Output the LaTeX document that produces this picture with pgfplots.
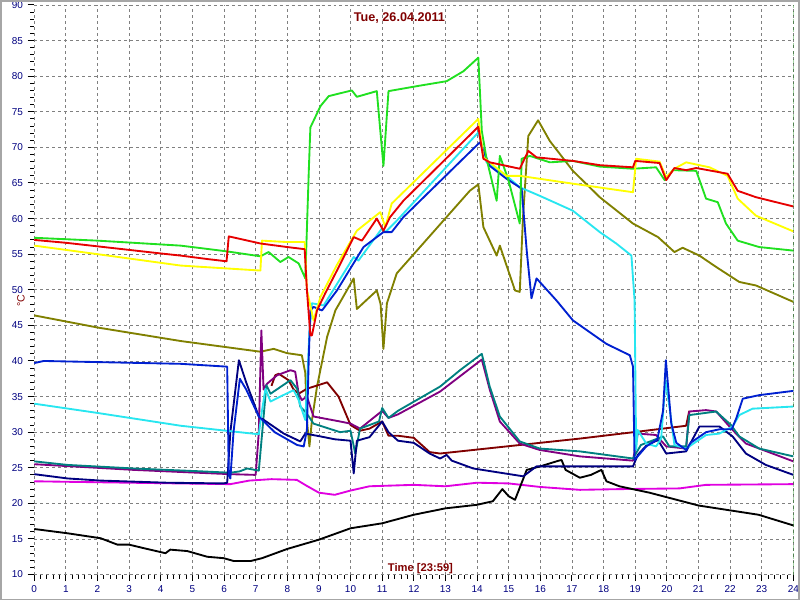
\documentclass[border=0pt]{standalone}
\usepackage{fontspec}
\setmainfont{Liberation Sans}
\usepackage{pgfplots}
\pgfplotsset{compat=1.18}
\definecolor{lblnavy}{RGB}{0,0,128}
\definecolor{ttlred}{RGB}{128,0,0}
\definecolor{cred}{RGB}{230,0,0}
\definecolor{cyellow}{RGB}{255,255,0}
\definecolor{cgreen}{RGB}{32,224,32}
\definecolor{ccyan}{RGB}{40,230,240}
\definecolor{cblue}{RGB}{0,32,208}
\definecolor{cnavy}{RGB}{0,0,128}
\definecolor{colive}{RGB}{128,128,0}
\definecolor{cmagenta}{RGB}{224,0,224}
\definecolor{cteal}{RGB}{0,128,128}
\definecolor{cpurple}{RGB}{128,0,128}
\definecolor{cmaroon}{RGB}{128,0,0}
\begin{document}
\begin{tikzpicture}
\begin{axis}[
  at={(0,0)}, anchor=south west,
  scale only axis, width=570.75pt, height=428.25pt,
  xmin=0, xmax=24, ymin=10, ymax=90,
  xtick={0,...,24}, ytick={10,15,...,90},
  minor x tick num=4, minor y tick num=4,
  xtick pos=bottom, ytick pos=left,
  axis line style={draw=none},
  tick align=outside,
  major tick length=5pt, minor tick length=3pt,
  tick style={black, line width=0.75pt},
  grid=major,
  major grid style={gray, dash pattern=on 2.25pt off 2.25pt, line width=0.6pt},
  ticklabel style={font=\fontsize{7.5}{9}\selectfont, text=lblnavy},
  /pgf/number format/assume math mode=true,
  every axis plot/.append style={line width=1.4pt, line join=round, mark=none},
]
% olive
\addplot[colive] coordinates {
(0,46.4) (2,44.7) (4.63,42.8) (7.15,41.3) (7.57,41.7) (7.99,41.1) (8.46,40.8) (8.57,38.3)
(8.62,31.7) (8.7,28.0) (8.78,31.7) (8.94,36.4) (9.26,43.4) (9.52,47.1) (10.1,51.6) (10.2,47.3)
(10.83,49.9) (10.95,48) (11.04,41.7) (11.15,48.1) (11.46,52.3) (13.77,63.9) (14.04,64.8)
(14.2,58.8) (14.62,54.8) (14.72,56.2) (15.2,49.9) (15.35,49.7) (15.45,60) (15.62,71.6)
(15.93,73.8) (16.3,70.9) (17.03,66.7) (17.88,63.0) (18.93,59.3) (19.72,57.4) (20.24,55.3)
(20.5,55.9) (21.03,54.8) (21.56,53.2) (22.29,51.1) (22.82,50.6) (24,48.3)};
% magenta
\addplot[cmagenta] coordinates {
(0,23.1) (3,22.9) (6.2,22.7) (6.8,23.2) (7.5,23.4) (8.3,23.3) (8.6,22.5) (9.0,21.5) (9.5,21.2)
(10.0,21.8) (10.6,22.4) (12.0,22.6) (13.0,22.4) (14.0,22.9) (15.0,22.8) (16.0,22.3)
(17.25,21.9) (18.5,22.0) (20.4,22.1) (21.24,22.6) (24,22.7)};
% black
\addplot[black] coordinates {
(0,16.4) (1.05,15.8) (2.1,15.1) (2.63,14.2) (3.0,14.2) (3.47,13.7) (4.15,13.0) (4.3,13.5)
(4.84,13.3) (5.47,12.5) (5.99,12.3) (6.31,11.9) (6.84,11.9) (7.2,12.3) (8.0,13.6) (9.0,14.9)
(10.0,16.5) (11.0,17.2) (12.0,18.4) (13.0,19.3) (14.0,19.8) (14.5,20.3) (14.8,22) (15.0,21)
(15.2,20.5) (15.57,24.7) (16.0,25.2) (16.51,25.9) (16.67,26.1) (16.8,24.7) (17.25,23.6)
(17.6,24.0) (17.93,24.7) (18.09,23.1) (18.5,22.4) (19.45,21.5) (21.0,19.7) (22.9,18.4) (24,16.9)};
% maroon
\addplot[cmaroon] coordinates {
(7.5,36.5) (7.62,38.0) (7.73,38.2) (8.04,37.3) (8.2,36) (8.36,35.4) (8.62,36.1) (9.26,37.0)
(9.62,35.0) (10.0,31.0) (10.3,30.2) (10.6,30.5) (11.0,31.5) (11.2,29.5) (11.5,29.5) (12.0,29.2)
(12.5,27.2) (12.83,27.0) (17.25,29.1) (19.14,30.1) (20.61,30.9) (20.71,33)};
% purple
\addplot[cpurple] coordinates {
(0,25.5) (3.15,24.7) (6.2,24.1) (7.0,24.0) (7.1,30) (7.18,44.3) (7.25,36) (7.36,36.8)
(7.68,38.0) (8.1,38.7) (8.25,38.5) (8.36,35.4) (8.46,34.5) (8.62,35.0) (8.83,32.2) (9.67,31.5)
(10.0,31.2) (10.3,30.5) (11.0,33.0) (11.2,32) (11.5,32.5) (12.83,35.7) (14.15,40.2) (14.4,36)
(14.72,31.5) (15.35,28.4) (15.98,27.5) (17.25,26.6) (18.93,26.0) (19.08,29.8) (19.66,29.6)
(19.98,28.0) (20.61,27.7) (20.71,32.9) (21.24,33.1) (21.56,32.9) (22.08,30.3) (22.5,28.4) (24,25.9)};
% teal
\addplot[cteal] coordinates {
(0,25.9) (1.05,25.4) (3.15,24.9) (5.26,24.5) (6.2,24.3) (6.5,24.5) (6.73,24.9) (7.1,24.6)
(7.15,27.1) (7.34,36.6) (7.47,35.4) (8.1,37.3) (8.31,36.1) (8.41,33.6) (8.62,32.6) (8.83,31.2)
(9.67,30.0) (10.0,30.2) (10.15,27) (10.3,30.5) (10.9,31.5) (11.0,33.4) (11.2,32) (11.5,33)
(12.83,36.4) (13.46,38.7) (14.15,41.0) (14.4,36.4) (14.72,32.2) (15.35,28.7) (15.98,27.7)
(17.25,27.3) (18.09,26.8) (18.93,26.3) (19.18,28.2) (19.88,29.4) (20.08,28.0) (20.61,28.0)
(20.71,32.4) (21.56,32.9) (22.03,31.0) (22.29,29.4) (22.92,27.7) (24,26.6)};
% navy
\addplot[cnavy] coordinates {
(0,24.1) (1.05,23.5) (2.1,23.2) (4.2,22.9) (6.0,22.8) (6.1,22.9) (6.2,30) (6.47,40.1) (6.7,37)
(7.1,32.2) (7.89,29.8) (8.41,28.7) (8.57,29.8) (9.05,29.4) (9.5,29.0) (10.0,28.8) (10.1,24.2)
(10.2,28.8) (10.6,29.3) (11.0,31.5) (11.2,30.0) (11.5,28.8) (12.0,28.5) (12.5,27.0) (12.83,26.3)
(13.04,26.8) (13.2,26.0) (13.88,24.9) (15.46,23.8) (15.88,25.2) (18.93,25.2) (19.08,26.8)
(19.35,28.1) (19.72,28.9) (19.98,27.0) (20.61,27.3) (21.03,30.8) (21.66,30.8) (22.08,29.4)
(22.5,27.0) (23.13,25.4) (24,24.0)};
% cyan
\addplot[ccyan] coordinates {
(0,34.0) (2,32.7) (4.63,30.9) (7.1,29.7) (7.2,33) (7.31,36.1) (7.47,34.3) (7.78,35.0) (8.2,35.9)
(8.36,34.5) (8.57,31.7) (8.7,44) (8.78,48.1) (9.15,47.8) (9.57,50.8) (10.1,54.6) (10.25,54.1)
(10.99,58.6) (11.1,58.1) (11.46,59.7) (14.04,72.1) (14.2,69.5) (14.3,67.9) (14.93,66.0)
(15.35,64.4) (15.98,63.2) (17.03,61.1) (17.88,58.1) (18.4,56.5) (18.88,54.8) (18.98,48.5)
(19.03,27.5) (19.08,30.3) (19.35,28.4) (19.66,28.0) (19.82,29.1) (19.96,37.3) (20.08,33.6)
(20.24,28.2) (20.61,27.7) (21.24,29.6) (21.66,29.8) (22.08,30.8) (22.29,32.4) (22.71,33.3) (24,33.6)};
% blue
\addplot[cblue] coordinates {
(0,39.7) (0.3,40.0) (4.63,39.6) (6.1,39.2) (6.15,24) (6.2,23.5) (6.3,30) (6.5,37.5) (6.7,36)
(7.1,32.2) (7.6,30.0) (8.31,28.2) (8.52,28.0) (8.62,30.3) (8.68,40.6) (8.73,47.1) (8.83,47.6)
(9.1,47.1) (9.57,49.9) (10.41,56.0) (11.04,58.1) (11.3,58.1) (11.67,60.2) (14.04,70.5)
(14.09,70.7) (14.4,67.4) (14.93,65.6) (15.41,64.2) (15.57,55.5) (15.72,48.8) (15.88,51.6)
(16.51,48.5) (17.03,45.7) (18.09,42.4) (18.83,40.8) (18.93,39.2) (18.98,26.1) (19.35,28.0)
(19.7,29.0) (19.88,33) (19.97,40.1) (20.14,31.2) (20.3,28.5) (20.61,27.5) (20.75,28.5)
(21.24,30.0) (21.66,30.4) (22.05,30.4) (22.2,32) (22.4,34.7) (22.92,35.2) (24,35.8)};
% green
\addplot[cgreen] coordinates {
(0,57.3) (2,56.9) (4.63,56.2) (6.08,55.4) (7.15,54.7) (7.41,55.3) (7.78,53.9) (8.04,54.6)
(8.36,53.7) (8.57,51.6) (8.68,66.7) (8.73,72.8) (9.05,75.8) (9.31,77.2) (10.04,78.0) (10.2,77.1)
(10.83,77.9) (11.04,67.4) (11.2,77.9) (12.1,78.6) (13.04,79.3) (13.57,80.7) (14.04,82.6)
(14.15,72.3) (14.3,68.4) (14.62,62.5) (14.72,68.8) (14.98,65.6) (15.35,59.3) (15.41,68.4)
(15.67,68.8) (16.3,67.9) (17.03,68.1) (17.88,67.3) (18.93,67.0) (19.66,67.2) (19.93,65.4)
(20.19,66.8) (20.93,66.7) (21.24,62.8) (21.61,62.3) (21.87,59.3) (22.24,56.9) (22.92,56.0) (24,55.5)};
% yellow
\addplot[cyellow] coordinates {
(0,56.2) (2,55.0) (4.63,53.4) (7.15,52.7) (7.2,56.9) (8.0,56.7) (8.55,56.7) (8.62,50) (8.83,45.7)
(9.05,49.0) (9.57,53.5) (10.2,58.3) (10.94,60.9) (11.1,58.8) (11.3,62.1) (14.04,74.0) (14.2,68.6)
(14.93,66.0) (15.35,66.0) (17.03,64.9) (18.93,63.7) (19.03,68.4) (19.77,68.0) (19.98,65.8)
(20.24,67.0) (20.61,67.9) (21.35,67.2) (21.92,66.0) (22.24,62.8) (22.82,60.4) (24,58.2)};
% red
\addplot[cred] coordinates {
(0,57.0) (1,56.6) (2,56.1) (3,55.6) (4,55.1) (4.63,54.8) (5.5,54.3) (6.08,54.0) (6.15,57.5)
(7.15,56.5) (8.0,56.0) (8.55,55.7) (8.62,50) (8.73,43.6) (8.78,43.6) (8.94,47.1) (9.2,49.5)
(9.57,52.7) (10.1,57.4) (10.36,56.9) (10.83,60.0) (11.04,58.3) (11.25,60.2) (11.67,62.5)
(14.04,72.9) (14.2,68.4) (14.4,67.9) (14.93,67.4) (15.35,67.0) (15.62,69.5) (15.88,68.6)
(17.03,68.1) (17.88,67.5) (18.93,67.2) (19.0,68.1) (19.77,67.8) (19.98,65.4) (20.24,67.1)
(20.61,66.8) (20.93,67.1) (21.92,66.3) (22.24,63.9) (22.82,63.0) (24,61.7)};
\draw[green!50!black, dash pattern=on 4pt off 2pt, line width=0.75pt] (axis cs:24,10) -- (axis cs:24,90);
\end{axis}
\node[font=\bfseries\fontsize{9.5}{11}\selectfont, text=ttlred] at (274.6pt,418.5pt) {Tue, 26.04.2011};
\node[font=\bfseries\fontsize{8.4}{10}\selectfont, text=ttlred] at (290.4pt,4.5pt) {Time [23:59]};
\node[font=\fontsize{8}{10}\selectfont, text=ttlred, rotate=90] at (-10pt,206pt) {°C};
\pgfresetboundingbox
\draw[gray!70, line width=1.5pt] (-25pt,-18.75pt) rectangle (575pt,431.25pt);
\end{tikzpicture}
\end{document}
